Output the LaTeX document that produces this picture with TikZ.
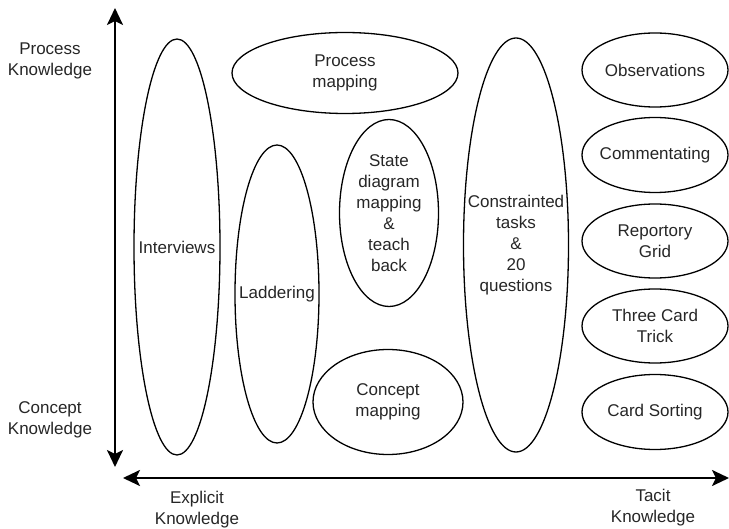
\documentclass[tikz,border=0pt]{standalone}
\usepackage{fontspec}
\setmainfont{Liberation Sans}
\usetikzlibrary{shapes.geometric,arrows.meta}
\begin{document}
\begin{tikzpicture}[x=1pt,y=-1pt,
  blob/.style={draw=black, line width=1.3pt, ellipse, inner sep=0pt},
  txt/.style={align=center, text=black!85, font=\fontsize{17}{21}\selectfont, inner sep=0pt},
  axis/.style={line width=2.6pt, {Stealth[length=17pt,width=16pt,inset=4pt]}-{Stealth[length=17pt,width=16pt,inset=4pt]}}
]
\useasboundingbox (0,0) rectangle (729,529);
% axes
\coordinate (ytop) at (115,8);
\coordinate (ybot) at (115,467);
\coordinate (xleft) at (123,478);
\coordinate (xright) at (729,478);
\draw[axis] (ybot) -- (ytop);
\draw[axis] (xleft) -- (xright);
% axis labels
\node[txt] (pk) at (50,61) {Process\\Knowledge};
\node[txt] (ck) at (50,420) {Concept\\Knowledge};
\node[txt] (ek) at (197,510) {Explicit\\Knowledge};
\node[txt] (tk) at (653,508) {Tacit\\Knowledge};
% ellipses
\node[blob, minimum width=86pt, minimum height=416pt] (interviews) at (177,247) {};
\node[txt] at (interviews.center) {Interviews};
\node[blob, minimum width=84pt, minimum height=298pt] (laddering) at (277,294) {};
\node[txt] at (laddering.center) {Laddering};
\node[blob, minimum width=226pt, minimum height=81pt] (procmap) at (345,73) {};
\node[txt] at (procmap.center) {Process\\mapping};
\node[blob, minimum width=99pt, minimum height=187pt] (state) at (389,213) {};
\node[txt] at (state.center) {State\\diagram\\mapping\\\&\\teach\\back};
\node[blob, minimum width=150pt, minimum height=105pt] (conmap) at (388,402) {};
\node[txt] at (conmap.center) {Concept\\mapping};
\node[blob, minimum width=105pt, minimum height=414pt] (constr) at (516,245) {};
\node[txt] at (constr.center) {Constrainted\\tasks\\\&\\20\\questions};
% right column
\node[blob, minimum width=146pt, minimum height=74pt] (obs) at (655,70) {};
\node[txt] at (obs.center) {Observations};
\node[blob, minimum width=146pt, minimum height=75pt] (comm) at (655,155) {};
\node[txt] at (comm.center) {Commentating};
\node[blob, minimum width=146pt, minimum height=74pt] (rep) at (655,241) {};
\node[txt] at (rep.center) {Reportory\\Grid};
\node[blob, minimum width=146pt, minimum height=74pt] (three) at (655,326) {};
\node[txt] at (three.center) {Three Card\\Trick};
\node[blob, minimum width=146pt, minimum height=75pt] (cards) at (655,412) {};
\node[txt] at (cards.center) {Card Sorting};
\end{tikzpicture}
\end{document}
